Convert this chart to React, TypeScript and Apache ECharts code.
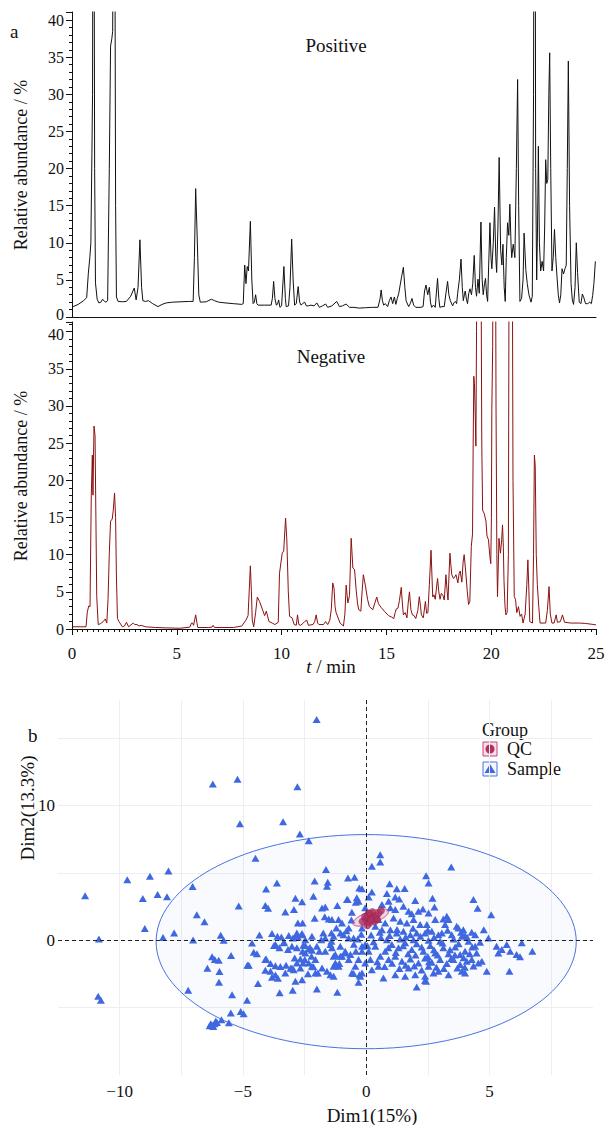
import React, { useEffect, useRef } from 'react';
import * as echarts from 'echarts';

const FONT = "Liberation Serif";

// ---- Chromatogram (a) : [retention time (min), relative abundance (%)] ----
const positiveTrace: number[][] = [
  [0.05,1.4],[0.3,1.7],[0.55,2.2],[0.7,2.6],[0.78,5.9],[0.85,8.0],[0.9,10],[0.95,22],[0.98,30],[1.0,60],[1.05,60],[1.08,20],[1.12,4.6],[1.2,2.4],[1.28,1.9],[1.38,2.0],[1.46,2.4],[1.55,2.1],[1.62,2.0],[1.7,2.2],[1.78,20],[1.84,36.5],[1.9,37.5],[1.94,38.5],[1.98,60],[2.04,60],[2.08,15],[2.12,2.7],[2.2,2.1],[2.4,2.05],[2.6,2.1],[2.8,2.8],[2.97,3.9],[3.06,2.3],[3.15,4],[3.24,10.4],[3.32,4],[3.38,2.2],[3.5,2.1],[3.65,2.2],[3.85,1.8],[4.1,1.4],[4.3,1.7],[4.5,1.9],[4.8,2.0],[5.2,2.05],[5.6,2.1],[5.78,2.1],[5.84,8],[5.9,17.3],[5.96,12],[6.05,3],[6.12,2.0],[6.4,2.05],[6.65,2.4],[6.8,2.2],[7.0,2.0],[7.3,1.9],[7.7,1.8],[8.1,1.7],[8.17,1.8],[8.24,7.0],[8.3,4.5],[8.36,6.8],[8.42,6.2],[8.51,12.9],[8.58,5],[8.64,1.8],[8.7,2.0],[8.76,3.0],[8.82,1.8],[8.88,1.6],[9.2,1.6],[9.5,1.6],[9.56,2.5],[9.62,4.8],[9.68,2.5],[9.75,1.6],[9.8,1.7],[9.86,2.3],[9.92,1.3],[10.0,1.5],[10.11,6.8],[10.18,2.5],[10.22,1.4],[10.33,1.5],[10.4,4],[10.48,10.5],[10.55,5],[10.62,1.6],[10.7,1.8],[10.79,4.1],[10.86,2.0],[10.93,1.6],[11.0,1.8],[11.1,2.0],[11.18,1.5],[11.27,1.5],[11.4,1.6],[11.55,1.5],[11.68,1.9],[11.8,1.3],[11.95,1.5],[12.1,1.75],[12.2,1.3],[12.4,1.5],[12.63,2.1],[12.76,1.4],[12.9,1.5],[13.08,1.75],[13.24,1.3],[13.45,1.3],[13.7,1.2],[14.0,1.25],[14.3,1.3],[14.6,1.3],[14.7,2.5],[14.75,3.65],[14.81,2.2],[14.87,1.6],[14.95,1.8],[15.06,1.4],[15.14,2.2],[15.22,2.7],[15.3,1.8],[15.38,2.7],[15.45,1.7],[15.52,2.5],[15.59,3.2],[15.65,4.2],[15.73,5.5],[15.81,6.7],[15.88,4],[15.94,2.2],[16.06,1.4],[16.14,1.8],[16.22,2.5],[16.3,1.6],[16.4,1.3],[16.65,1.3],[16.75,1.4],[16.82,3.5],[16.89,4.3],[16.97,3.0],[17.05,4.0],[17.1,2.0],[17.16,1.3],[17.25,1.6],[17.33,1.3],[17.44,5.2],[17.5,2.5],[17.55,1.3],[17.65,1.4],[17.76,1.4],[17.84,3.2],[17.92,4.8],[17.98,3.0],[18.05,2.2],[18.16,1.5],[18.22,1.9],[18.29,2.1],[18.35,1.8],[18.4,3.2],[18.48,5],[18.56,7.8],[18.62,4],[18.67,2.2],[18.72,3],[18.76,3.5],[18.82,2.4],[18.87,1.8],[18.93,3.2],[18.99,3.8],[19.06,3.0],[19.12,4.5],[19.19,8.3],[19.25,4],[19.3,2.8],[19.37,5.1],[19.43,3.2],[19.51,12.8],[19.57,5],[19.62,3.0],[19.68,4.5],[19.73,5.2],[19.78,3.0],[19.83,2.1],[19.88,7],[19.94,12.7],[19.99,8],[20.03,6.5],[20.1,10],[20.16,14.8],[20.22,8],[20.26,6.0],[20.32,12],[20.38,21.5],[20.45,9],[20.51,7],[20.56,9.8],[20.62,4],[20.67,2.1],[20.72,8],[20.78,12.7],[20.84,11],[20.89,15.2],[20.95,9.5],[20.98,8.0],[21.05,9.8],[21.13,8.0],[21.2,20],[21.26,32],[21.31,15],[21.37,2.1],[21.45,2.5],[21.52,5],[21.57,11.3],[21.65,6.4],[21.72,4.5],[21.8,3.0],[21.9,2.0],[21.96,2.8],[22.02,30],[22.04,60],[22.1,60],[22.12,20],[22.17,5.0],[22.21,12],[22.25,23.0],[22.3,10],[22.36,6.2],[22.43,7.5],[22.5,6.2],[22.55,12],[22.6,21.2],[22.65,18],[22.7,18.5],[22.75,30],[22.79,35.6],[22.84,20],[22.9,6.2],[22.96,8],[23.02,11.8],[23.08,8],[23.13,5.8],[23.2,3.0],[23.26,1.9],[23.32,3],[23.38,6.5],[23.45,5.8],[23.52,6.5],[23.58,7],[23.63,20],[23.68,34.5],[23.74,15],[23.81,4.5],[23.87,2.3],[23.93,1.7],[24.0,4],[24.06,10.0],[24.12,6],[24.2,2.0],[24.28,1.8],[24.35,3.1],[24.42,2.6],[24.5,1.8],[24.6,1.8],[24.7,2.0],[24.78,1.8],[24.84,2.9],[24.9,4.5],[24.97,7.5]
];

const negativeTrace: number[][] = [
  [0.05,0.3],[0.4,0.3],[0.67,0.3],[0.73,2.3],[0.8,3.1],[0.86,3.0],[0.92,18],[0.97,23.4],[1.0,18],[1.05,27.3],[1.1,26],[1.14,15],[1.18,4.4],[1.25,0.6],[1.35,0.7],[1.49,1.0],[1.59,1.35],[1.66,0.8],[1.72,4],[1.78,10.2],[1.84,14.5],[1.92,14.8],[1.97,16],[2.03,18.3],[2.08,15],[2.12,7],[2.17,1.4],[2.24,1.0],[2.29,0.8],[2.4,0.3],[2.5,0.4],[2.6,0.9],[2.7,0.3],[2.92,0.8],[3.0,0.6],[3.1,0.6],[3.2,0.4],[3.3,0.5],[3.5,0.3],[4.0,0.2],[4.5,0.15],[5.14,0.1],[5.62,0.25],[5.7,0.8],[5.75,0.8],[5.8,0.5],[5.9,1.9],[5.97,0.7],[6.0,0.2],[6.5,0.2],[6.68,0.25],[6.73,0.5],[6.8,0.2],[7.3,0.2],[7.7,0.2],[8.1,0.4],[8.3,1.2],[8.4,1.8],[8.51,8.5],[8.56,5],[8.6,1.2],[8.67,0.3],[8.76,2.2],[8.84,4.3],[8.95,3.7],[9.1,2.5],[9.19,1.8],[9.27,2.4],[9.4,1.0],[9.55,0.8],[9.68,0.6],[9.84,0.9],[9.9,7.5],[10.03,10.2],[10.1,10.5],[10.19,14.9],[10.25,12],[10.32,5],[10.38,1.7],[10.5,1.5],[10.6,0.6],[10.7,0.5],[10.76,1.9],[10.82,0.6],[10.9,0.5],[11.0,0.7],[11.1,1.0],[11.2,1.2],[11.28,0.5],[11.5,0.6],[11.58,1.0],[11.65,1.9],[11.72,0.8],[11.78,0.6],[12.0,0.6],[12.1,1.0],[12.2,0.6],[12.3,1.2],[12.37,2.6],[12.44,6.2],[12.5,5.5],[12.55,3],[12.6,2.2],[12.79,0.8],[12.95,0.4],[13.02,2],[13.08,5.9],[13.16,3.5],[13.24,4.5],[13.32,12.2],[13.4,8.2],[13.48,8.0],[13.56,5.2],[13.62,3.5],[13.68,2.6],[13.78,2.4],[13.84,5],[13.9,7.3],[14.0,5.8],[14.1,4.0],[14.19,3.0],[14.35,2.6],[14.45,3.5],[14.54,4.3],[14.62,3.4],[14.75,2.9],[14.9,2.4],[15.1,1.8],[15.25,1.6],[15.35,1.4],[15.42,2.2],[15.47,2.7],[15.55,2.8],[15.62,3.8],[15.71,5.6],[15.76,3.5],[15.81,1.9],[15.9,2.2],[15.98,1.5],[16.04,3.5],[16.1,5.0],[16.17,2.6],[16.24,1.9],[16.32,1.8],[16.4,1.4],[16.5,2.5],[16.57,4.35],[16.63,3.0],[16.67,1.9],[16.76,1.5],[16.86,3.7],[16.92,2.1],[16.98,2.2],[17.05,6],[17.13,10.6],[17.21,4.3],[17.27,4.6],[17.33,4.0],[17.44,6.8],[17.5,5],[17.56,4.0],[17.62,4.8],[17.7,4.5],[17.76,3.9],[17.84,7.3],[17.9,5],[17.94,3.9],[18.03,10.2],[18.08,8.5],[18.12,7.3],[18.2,6.8],[18.26,7.0],[18.32,7.3],[18.41,6.2],[18.47,7.5],[18.52,7.8],[18.6,6.3],[18.66,9],[18.71,10.0],[18.79,7.5],[18.86,5],[18.92,3.3],[18.98,3.7],[19.03,9],[19.05,11.1],[19.11,12.8],[19.14,25],[19.17,34],[19.2,33],[19.23,30],[19.27,24.6],[19.3,40],[19.33,60],[19.5,60],[19.55,25],[19.59,16.0],[19.67,15.5],[19.75,14.5],[19.8,12.5],[19.87,12.0],[19.93,10],[19.98,8.8],[20.01,15],[20.03,29.5],[20.07,38],[20.1,60],[20.2,60],[20.23,30],[20.27,10],[20.3,4.35],[20.37,12.2],[20.44,10.2],[20.5,12],[20.54,14.0],[20.58,11],[20.61,6.5],[20.66,3],[20.7,1.9],[20.76,2.2],[20.82,10],[20.86,60],[21.0,60],[21.04,20],[21.1,4.35],[21.16,4.0],[21.22,2.2],[21.3,3.0],[21.38,1.7],[21.45,2.0],[21.52,0.8],[21.62,2],[21.7,6],[21.75,9.3],[21.8,5],[21.84,1.0],[21.97,0.8],[22.02,10],[22.06,23.4],[22.1,22],[22.15,10],[22.2,6.0],[22.27,3.0],[22.33,0.8],[22.6,0.8],[22.68,2.5],[22.76,5.7],[22.82,2],[22.9,0.8],[23.0,0.8],[23.1,1.9],[23.16,0.9],[23.3,1.0],[23.4,1.9],[23.5,0.9],[23.8,0.8],[24.2,0.8],[24.5,0.75],[24.9,0.6],[25.0,0.55]
];

const abundanceTicks = [0, 5, 10, 15, 20, 25, 30, 35, 40];
const timeTicks = [0, 5, 10, 15, 20, 25];

// ---- PCA (b) ----
const dim1Ticks = [-10, -5, 0, 5];
const dim2Ticks = [0, 10];

const samplePoints: number[][] = [
  [-11.4,3.3],[-10.84,0.1],[-10.87,-4.16],[-10.76,-4.45],[-9.69,4.5],[-9.06,3.1],[-8.77,4.75],[-8.98,0.87],[-8.46,3.4],[-8.02,5.15],[-8.08,3.24],[-8.24,0.2],[-7.79,0.55],[-7.04,4.0],[-7.02,0.03],[-6.87,1.9],[-6.56,1.37],[-6.22,11.6],[-5.22,11.95],[-5.12,8.66],[-2.79,11.4],[-3.37,8.8],[-2.69,7.9],[-2.33,7.4],[-2.01,16.4],[-4.49,6.1],[-5.17,2.55],[-7.22,-3.7],[-6.44,-2.08],[-6.25,-1.23],[-6.14,-1.43],[-5.98,-1.48],[-5.95,-2.32],[-5.97,-3.12],[-5.9,0.37],[-5.78,0],[-5.48,-1.13],[-5.44,-4.05],[-4.83,-4.45],[-4.82,-1.85],[-5.49,-5.39],[-5.09,-5.29],[-4.97,-5.46],[-5.57,-6.13],[-5.87,-5.89],[-6.35,-6.35],[-6.25,-6.3],[-6.15,-6.2],[-6.05,-6.1],[-6.2,-6.4],[-6.3,-6.2],[-6.1,-6.0],[-4.39,-3.21],[-4.63,-0.2],[-4.56,-0.89],[-4.43,-0.99],[-4.33,0.4],[-4.06,3.8],[-3.62,4.26],[-4.09,2.58],[-3.98,2.38],[-3.28,2.1],[-2.93,2.28],[-2.87,3.12],[-2.6,2.87],[-2.09,4.41],[-2.14,3.27],[-2.09,1.63],[-2.77,1.29],[-2.58,1.29],[-3.82,0.5],[-3.6,0.3],[-3.44,0.25],[-3.14,0.35],[-2.83,0.35],[-2.6,0.5],[-2.77,0.22],[-3.68,-0.32],[-3.33,-0.15],[-3.01,-0.45],[-3.17,-0.69],[-2.55,-0.37],[-2.47,0.05],[-2.28,-0.54],[-2.2,-0.74],[-4.06,-1.38],[-3.68,-1.88],[-3.48,-1.95],[-3.25,-1.86],[-3.07,-2.08],[-2.94,-2.18],[-4.09,-2.23],[-3.88,-2.3],[-3.82,-2.75],[-3.58,-2.82],[-3.68,-2.57],[-3.28,-2.42],[-2.87,-3.04],[-2.6,-2.92],[-3.51,-3.9],[-2.98,-3.71],[-2.49,-1.43],[-2.33,-1.68],[-2.14,-1.97],[-2.56,-1.68],[-2.0,-3.61],[-1.96,-2.42],
  [-1.63,5.25],[-1.56,4.31],[-1.59,4.01],[-0.74,4.63],[-0.47,4.68],[-1.17,2.58],[-0.75,3.02],[-1.79,2.4],[-1.66,2.48],[-1.52,1.59],[-1.68,1.74],[-1.12,1.54],[-0.28,3.89],[-0.17,3.82],[-0.38,3.15],[-0.42,2.82],[-0.31,2.9],[-0.04,2.41],[0.04,2.03],[-1.21,0.92],[-1.04,0.55],[-0.92,0.42],[-0.71,0.18],[-1.41,0.55],[-1.32,0.3],[-1.74,0.55],[-1.66,0.18],[-1.82,0.05],[-1.45,-0.32],[-1.39,-0.56],[-1.41,-0.07],[-2.0,-0.45],[-1.9,-0.82],[-1.66,-0.82],[-1.25,-1.06],[-1.05,-1.19],[-0.85,-0.94],[-0.64,-1.06],[-0.42,-0.82],[-0.17,-0.82],[-1.25,-1.68],[-1.09,-1.73],[-1.32,-1.93],[-1.79,-2.05],[-1.59,-2.3],[-1.45,-2.55],[-1.32,-2.67],[-1.17,-3.86],[-0.51,-2.47],[-0.27,-2.55],[-0.17,-2.42],[-0.31,-3.12],[-0.17,-0.45],[-0.04,-0.32],[-0.51,0.18],[-0.34,0.1],[-2.2,0.3],[-2.33,-0.64],[-2.47,-0.94],[-2.22,-1.19],[-2.06,-1.43],[-2.2,-1.93],[-2.06,-2.42],[-2.36,-2.49],[-2.67,-2.05],[-3.74,-0.39],[-3.52,-0.56],[-3.35,-0.19],[-2.97,0.18],[-2.81,0.55],[-2.63,0.42],[-2.47,-0.39],[-2.81,-0.56],[-2.58,-0.82],[-2.9,-1.31],[-2.67,-1.38],[-4.09,-1.43],[-3.88,-1.73],[-4.76,-1.86],[-3.01,-2.05],[-2.81,-1.68],
  [0.57,6.36],[0.57,5.82],[0.23,5.49],[3.45,5.45],[2.43,4.8],[2.53,4.26],[0.95,4.19],[0.84,3.47],[1.24,3.82],[1.56,3.84],[1.34,3.07],[1.18,3.22],[1.99,2.95],[2.69,3.12],[2.77,2.48],[4.35,3.02],[4.52,2.38],[5.07,1.89],[0.23,3.59],[0.1,3.22],[-0.78,3.02],[-0.58,2.08],[0.91,2.9],[0.64,2.65],[0.98,2.41],[1.18,2.28],[1.51,2.52],[1.72,2.15],[1.85,1.98],[2.12,2.15],[2.3,2.33],[2.53,2.03],[2.8,1.54],[3.13,1.59],[3.27,1.78],[3.34,1.54],[3.67,1.04],[3.74,0.92],[4.28,0.59],[4.77,0.79],[4.96,0.18],[0.5,1.54],[0.77,1.29],[1.11,1.66],[1.38,1.41],[1.65,1.29],[1.92,1.54],[2.19,1.17],[2.46,1.17],[0.64,0.79],[0.98,0.79],[1.24,0.55],[1.51,0.67],[1.79,0.42],[2.05,0.55],[2.39,0.55],[2.66,0.67],[2.93,0.42],[3.07,0.55],[3.47,0.42],[3.88,0.3],[4.01,0.35],[5.29,-0.45],[5.5,-0.69],[5.7,-0.32],[5.84,-0.82],[6.1,-1.06],[6.31,-0.19],[6.74,-0.82],[6.24,-1.23],[5.81,-2.3],[4.89,-2.3],[4.42,-0.45],[4.48,-0.94],[4.55,-1.68],[4.69,-1.56],[4.28,-1.43],[3.88,-2.3],[4.01,-2.42],[3.34,-2.55],[2.93,-2.3],[2.53,-1.93],[2.39,-2.67],[1.99,-2.55],[1.72,-2.05],[1.58,-2.67],[1.18,-2.55],[0.7,-2.79],[0.5,-1.93],[0.23,-2.18],[-0.58,-2.42],[2.05,-3.46],[2.39,-2.99],
  [0.37,-0.45],[0.77,-0.82],[1.04,-0.32],[1.31,-0.56],[1.58,-0.19],[1.85,-0.69],[2.05,-0.25],[2.32,-0.82],[2.6,-0.39],[2.8,-0.94],[3.13,-0.56],[3.34,-0.99],[3.61,-0.49],[3.81,-1.06],[4.01,-0.82],[0.57,-1.19],[0.91,-1.43],[1.18,-1.19],[1.45,-1.56],[1.79,-1.38],[2.12,-1.68],[2.39,-1.31],[2.66,-1.63],[3.0,-1.43],[3.27,-1.73],[3.54,-1.43],[3.81,-1.8],[4.08,-1.56],[0.1,-0.82],[0.17,-1.43],[-0.04,-1.68],[0.84,0.05],[1.38,0.1],[1.92,0.05],[2.53,0.0],[3.0,-0.07],[4.15,-0.07],[4.62,-0.15],[4.42,0.42],[-0.04,1.78],[0.37,1.04],[3.2,1.17],[3.94,0.79],[-0.17,0.92],[-0.71,0.92],[-0.98,1.29],[-1.39,1.54],[-1.05,-0.45],[-0.85,-0.82],[-0.98,-1.19],[-1.32,-1.19],[-1.12,-1.93],[-0.71,-1.43],[-0.31,-1.43],[-0.44,-1.93],[-0.24,-2.67],[5.36,-0.94],[2.43,-3.04],[2.73,-2.42],
  [0.3,-0.1],[0.6,0.2],[0.9,-0.55],[1.2,-0.9],[1.5,-0.4],[1.7,-1.0],[2.0,-1.1],[2.25,-0.5],[2.5,-1.2],[2.75,-0.7],[2.9,-1.1],[3.1,-0.2],[3.4,-0.7],[3.6,-1.1],[3.75,-0.25],[3.95,-1.3],[4.2,-1.0],[4.3,-0.5],[0.45,-1.6],[0.75,-1.95],[1.05,-1.7],[1.35,-2.1],[1.6,-1.85],[1.95,-1.9],[2.25,-2.2],[2.55,-1.6],[2.85,-2.0],[3.15,-2.1],[3.45,-1.35],[3.7,-2.05],[4.0,-2.0],[4.35,-1.9],[0.55,0.6],[0.95,0.35],[1.25,0.8],[1.6,0.25],[1.9,0.9],[2.2,0.3],[2.5,0.75],[2.75,0.2],[3.3,0.75],[3.55,0.1],[3.85,0.6],[4.1,0.2],[0.2,0.4],[0.05,-0.4],[-0.2,0.45],[-0.5,-0.3],[-0.8,0.7],[-0.6,1.5]
];

const qcPoints: number[][] = [
  [0.0,1.5],[0.1,1.7],[0.2,1.9],[0.3,1.6],[0.15,1.3],[0.4,1.8],[0.25,2.1],[-0.15,1.4],[0.05,1.1],[0.35,1.4],[0.5,2.0],[0.2,1.55],[0.1,2.0],[-0.05,1.75],[0.6,2.2],[0.45,1.55]
];

// confidence ellipses: [centre x, centre y, axis1 dx, axis1 dy, axis2 dx, axis2 dy]
const sampleEllipse = [0, -0.1, 8.52, 0, 0, 7.95];
const qcEllipse = [0.18, 1.69, 0.72, 0.48, -0.083, 0.42];

const ellipseRenderer = (fill: string, stroke: string) => (params: any, api: any) => {
  const cx = api.value(0), cy = api.value(1), ux = api.value(2), uy = api.value(3), vx = api.value(4), vy = api.value(5);
  const pts: number[][] = [];
  for (let k = 0; k < 144; k++) {
    const a = (k / 144) * Math.PI * 2;
    pts.push(api.coord([cx + Math.cos(a) * ux + Math.sin(a) * vx, cy + Math.cos(a) * uy + Math.sin(a) * vy]));
  }
  return { type: 'polygon', shape: { points: pts }, style: { fill, stroke, lineWidth: 1 } };
};

const minus = (v: number) => (v < 0 ? '\u2212' + Math.abs(v) : String(v));

const txt = (x: number, y: number, text: string, size: number, extra: any = {}) => ({
  type: 'text', x, y, ...(extra.rotation ? { rotation: extra.rotation } : {}),
  style: { text, fontFamily: FONT, fontSize: size, fill: '#111', textAlign: extra.align || 'left', textVerticalAlign: 'middle', ...(extra.rich ? { rich: extra.rich } : {}) },
});

export default function App() {
  const ref = useRef<HTMLDivElement>(null);
  useEffect(() => {
    if (!ref.current) return;
    const chart = echarts.init(ref.current, null, { renderer: 'svg' });
    const tickTxt = { fontFamily: FONT, fontSize: 16, color: '#111' };
    const blk = { color: '#111', width: 1 };
    // shifted: the tick value whose label is nudged away from the neighbouring panel
    const chromY = (gi: number, max: number, shifted: number, pad: number[]) => ({
      gridIndex: gi, type: 'value', min: 0, max, interval: 5,
      axisLine: { show: true, lineStyle: blk },
      axisTick: { show: true, length: 6, lineStyle: blk },
      minorTick: { show: true, splitNumber: 5, length: 3, lineStyle: blk },
      axisLabel: { ...tickTxt, margin: 8,
        rich: { s: { fontFamily: FONT, fontSize: 16, color: '#111', padding: pad } },
        formatter: (v: number) => (abundanceTicks.includes(v) ? (v === shifted ? `{s|${v}}` : String(v)) : '') },
      splitLine: { show: false },
    });
    const option: any = {
      animation: false,
      grid: [
        { left: 72, top: 12, width: 524, height: 305, outerBoundsMode: 'none' },
        { left: 72, top: 322, width: 524, height: 307, outerBoundsMode: 'none' },
        { left: 58, top: 700, width: 535, height: 375, outerBoundsMode: 'none' },
      ],
      xAxis: [
        { gridIndex: 0, type: 'value', min: 0, max: 25, interval: 5, axisLine: { show: true, onZero: false, lineStyle: blk }, axisTick: { show: false }, axisLabel: { show: false }, splitLine: { show: false } },
        { gridIndex: 1, type: 'value', min: 0, max: 25, interval: 5, axisLine: { show: true, onZero: false, lineStyle: blk },
          axisTick: { show: true, length: 6, lineStyle: blk },
          minorTick: { show: true, splitNumber: 20, length: 3, lineStyle: blk },
          axisLabel: { ...tickTxt, fontSize: 17, margin: 16, formatter: (v: number) => (timeTicks.includes(v) ? String(v) : '') },
          splitLine: { show: false } },
        { gridIndex: 2, type: 'value', min: -12.5, max: 9.2, interval: 2.5, axisLine: { show: false }, axisTick: { show: false },
          axisLabel: { ...tickTxt, fontSize: 17, margin: 8, formatter: (v: number) => (dim1Ticks.includes(v) ? minus(v) : '') },
          splitLine: { show: true, showMinLine: false, showMaxLine: false, lineStyle: { color: '#edeef2', width: 1 } } },
      ],
      yAxis: [
        chromY(0, 41.1, 0, [0, 0, 6, 0]),
        chromY(1, 41.3, 40, [6, 0, 0, 0]),
        { gridIndex: 2, type: 'value', min: -10, max: 17.84, interval: 5, axisLine: { show: false }, axisTick: { show: false },
          axisLabel: { ...tickTxt, fontSize: 17, margin: 3, formatter: (v: number) => (dim2Ticks.includes(v) ? minus(v) : '') },
          splitLine: { show: true, showMinLine: false, showMaxLine: false, lineStyle: { color: '#edeef2', width: 1 } } },
      ],
      series: [
        { type: 'line', xAxisIndex: 0, yAxisIndex: 0, data: positiveTrace, symbol: 'none', clip: true, silent: true, lineStyle: { color: '#111', width: 1 } },
        { type: 'line', xAxisIndex: 1, yAxisIndex: 1, data: negativeTrace, symbol: 'none', clip: true, silent: true, lineStyle: { color: '#8b1111', width: 1 } },
        { type: 'custom', xAxisIndex: 2, yAxisIndex: 2, data: [sampleEllipse], encode: { x: 0, y: 1 }, z: 1, silent: true,
          renderItem: ellipseRenderer('rgba(65,105,225,0.035)', '#4a72e0') },
        { type: 'scatter', xAxisIndex: 2, yAxisIndex: 2, data: [], z: 2, silent: true,
          markLine: { silent: true, symbol: ['none', 'none'], label: { show: false }, lineStyle: { color: '#222', type: [4, 3], width: 1 },
            data: [{ xAxis: 0 }, { yAxis: 0 }] } },
        { type: 'scatter', name: 'Sample', xAxisIndex: 2, yAxisIndex: 2, data: samplePoints, symbol: 'triangle', symbolSize: [8, 7], z: 3, silent: true,
          itemStyle: { color: '#3f68e0', opacity: 1 } },
        { type: 'custom', xAxisIndex: 2, yAxisIndex: 2, data: [qcEllipse], encode: { x: 0, y: 1 }, z: 4, silent: true,
          renderItem: ellipseRenderer('rgba(200,80,130,0.22)', '#c8457a') },
        { type: 'scatter', name: 'QC', xAxisIndex: 2, yAxisIndex: 2, data: qcPoints, symbol: 'circle', symbolSize: 7, z: 5, silent: true,
          itemStyle: { color: '#b0305f', borderColor: '#8e1f48', borderWidth: 0.5 } },
      ],
      graphic: [
        txt(10, 31, 'a', 19),
        txt(336, 45, 'Positive', 19, { align: 'center' }),
        txt(331, 356, 'Negative', 19, { align: 'center' }),
        txt(21, 165, 'Relative abundance / %', 18, { align: 'center', rotation: Math.PI / 2 }),
        txt(21, 476, 'Relative abundance / %', 18, { align: 'center', rotation: Math.PI / 2 }),
        txt(331, 666, '{i|t} / min', 19, { align: 'center', rich: { i: { fontStyle: 'italic', fontFamily: FONT, fontSize: 19 } } }),
        txt(28, 735, 'b', 19),
        txt(27, 808, 'Dim2(13.3%)', 19, { align: 'center', rotation: Math.PI / 2 }),
        txt(372, 1115, 'Dim1(15%)', 19, { align: 'center' }),
        txt(482, 730, 'Group', 18),
        { type: 'rect', shape: { x: 483, y: 742, width: 14, height: 14 }, style: { fill: 'rgba(200,80,130,0.18)', stroke: '#c8457a', lineWidth: 1 } },
        { type: 'circle', shape: { cx: 490, cy: 749, r: 4.5 }, style: { fill: '#b0305f' } },
        txt(507, 749, 'QC', 18),
        { type: 'rect', shape: { x: 483, y: 762, width: 14, height: 14 }, style: { fill: 'rgba(65,105,225,0.06)', stroke: '#4a72e0', lineWidth: 1 } },
        { type: 'polygon', shape: { points: [[490, 764], [495.5, 773], [484.5, 773]] }, style: { fill: '#3f68e0' } },
        txt(507, 769, 'Sample', 18),
      ],
    };
    chart.setOption(option);
    return () => chart.dispose();
  }, []);
  return <div ref={ref} style={{ position: 'absolute', left: 0, top: 0, width: 605, height: 1125, background: '#fff' }} />;
}
